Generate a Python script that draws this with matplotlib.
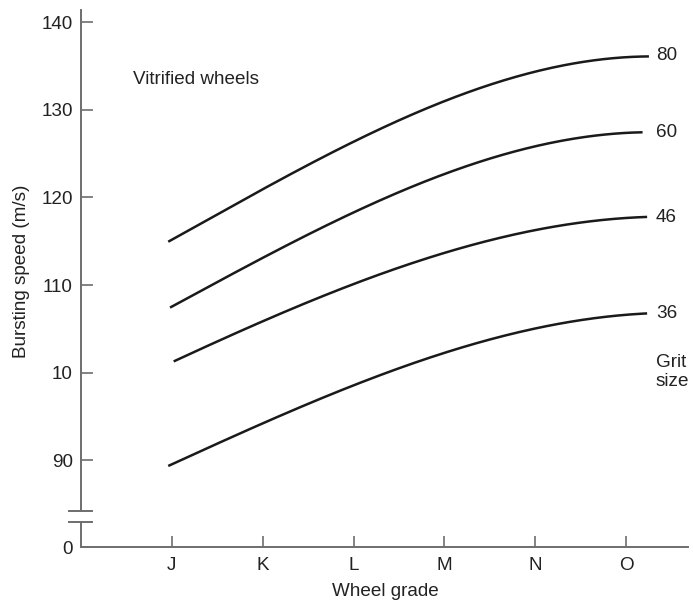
import numpy as np
import matplotlib
matplotlib.use("Agg")
import matplotlib.pyplot as plt

# ---- data ----
grades = ["J", "K", "L", "M", "N", "O"]
grit_sizes = ["80", "60", "46", "36"]
# x positions (grade index) of sampled points along each curve, incl. curve ends
x_80 = [-0.04, 0, 1, 2, 3, 4, 5, 5.25]
y_80 = [114.9, 115.25, 120.8, 126.4, 131.1, 134.2, 136.0, 136.1]
x_60 = [-0.02, 0, 1, 2, 3, 4, 5, 5.18]
y_60 = [107.4, 107.6, 113.0, 118.3, 122.8, 125.7, 127.3, 127.5]
x_46 = [0.02, 1, 2, 3, 4, 5, 5.23]
y_46 = [101.3, 105.8, 110.2, 113.6, 116.3, 117.6, 117.8]
x_36 = [-0.04, 0, 1, 2, 3, 4, 5, 5.23]
y_36 = [89.35, 89.6, 94.1, 98.6, 102.4, 104.9, 106.6, 106.8]

ytick_vals = [140, 130, 120, 110, 100, 90]
ytick_labels = ["140", "130", "120", "110", "10", "90"]
y_zero_pos = 80.08          # where the "0" of the broken axis sits
break_lo, break_hi = 83.0, 84.25

plt.rcParams['font.family'] = ['Liberation Sans', 'DejaVu Sans']
W, H = 693, 602
fig = plt.figure(figsize=(W / 100, H / 100), dpi=100)
ax = fig.add_axes([81 / W, 1 - 547.3 / H, (688 - 81) / W, (547.3 - 10) / H])
ax.set_xlim(-1, 5.68)
ax.set_ylim(y_zero_pos, 141.37)

txt = '#222222'
spc = '#6e6e6e'
fs = 13.6

series = [(x_80, y_80), (x_60, y_60), (x_46, y_46), (x_36, y_36)]
for xs, ys in series:
    xs = np.array(xs); ys = np.array(ys)
    c = np.polyfit(xs, ys, 3)
    xx = np.linspace(xs[0], xs[-1], 200)
    ax.plot(xx, np.polyval(c, xx), color='#1a1a1a', lw=1.8, solid_capstyle='butt')

for sp in ['top', 'right', 'left']:
    ax.spines[sp].set_visible(False)
ax.spines['bottom'].set_color(spc)
ax.spines['bottom'].set_linewidth(1.4)

# broken left spine
ax.plot([-1, -1], [y_zero_pos, break_lo], color=spc, lw=1.4, clip_on=False)
ax.plot([-1, -1], [break_hi, 141.37], color=spc, lw=1.4, clip_on=False)
for yb in (break_lo, break_hi):
    ax.plot([-1 - 12 / 91, -1 + 11 / 91], [yb, yb], color=spc, lw=1.4, clip_on=False)

ax.set_yticks(ytick_vals + [y_zero_pos])
ax.set_yticklabels(ytick_labels + ["0"])
ax.tick_params(axis='y', direction='in', length=8.5, width=1.2, color=spc,
               labelsize=fs, labelcolor=txt, pad=6)
ax.yaxis.get_major_ticks()[-1].tick1line.set_visible(False)

ax.set_xticks(range(len(grades)))
ax.set_xticklabels(grades)
ax.tick_params(axis='x', direction='in', length=8, width=1.2, color=spc,
               labelsize=fs, labelcolor=txt, pad=7)

fig.text(385 / W, 1 - 592 / H, "Wheel grade", ha='center', va='center',
         fontsize=fs, color=txt)
fig.text(22 / W, 1 - 271 / H, "Bursting speed (m/s)", ha='center', va='center',
         rotation=90, fontsize=fs, color=txt)

ax.text(133 / W, 1 - 80 / H, "Vitrified wheels", transform=fig.transFigure,
        ha='left', va='center', fontsize=fs, color=txt)
for lab, ys, ypx in zip(grit_sizes, [y_80, y_60, y_46, y_36], [56, 133, 217, 313]):
    fig.text(656 / W, 1 - ypx / H, lab, ha='left', va='center', fontsize=fs, color=txt)
fig.text(656 / W, 1 - 372 / H, "Grit\nsize", ha='left', va='center', fontsize=fs,
         color=txt, linespacing=1.2)

fig.savefig("out.png", dpi=100)
